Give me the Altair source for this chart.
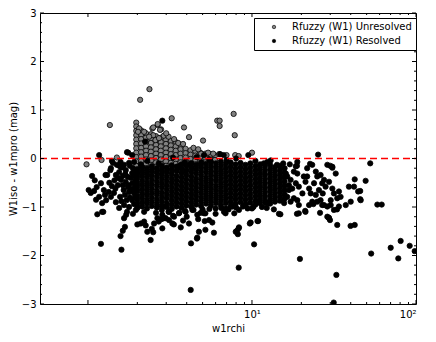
import altair as alt
import pandas as pd

UNRES = "Rfuzzy (W1) Unresolved"
RES = "Rfuzzy (W1) Resolved"

# ---- Resolved sources: dense core, one column per w1rchi value ----
band_x = [2.00, 2.14, 2.29, 2.45, 2.63, 2.82, 3.02, 3.24, 3.47, 3.72, 3.98, 4.27,
          4.57, 4.90, 5.25, 5.62, 6.03, 6.46, 6.92, 7.41, 7.94, 8.51, 9.12, 9.77,
          10.5, 11.2, 12.0, 12.9, 13.8, 14.8, 15.8]
band_y = [
    [-0.22, -0.31, -0.40, -0.50, -0.58, -0.67, -0.77, -0.85, -0.94, -1.02],
    [-0.18, -0.27, -0.36, -0.45, -0.54, -0.63, -0.72, -0.81, -0.90, -0.99],
    [-0.21, -0.30, -0.39, -0.49, -0.57, -0.66, -0.75, -0.85, -0.93, -1.03],
    [-0.16, -0.25, -0.35, -0.44, -0.53, -0.62, -0.71, -0.80, -0.89, -0.98],
    [-0.20, -0.29, -0.38, -0.47, -0.56, -0.66, -0.74, -0.84, -0.93, -1.01],
    [-0.15, -0.24, -0.33, -0.42, -0.51, -0.60, -0.70, -0.79, -0.88, -0.97, -1.06],
    [-0.19, -0.28, -0.37, -0.46, -0.55, -0.64, -0.73, -0.82, -0.92, -1.00],
    [-0.14, -0.23, -0.32, -0.41, -0.50, -0.59, -0.68, -0.77, -0.86, -0.95, -1.04],
    [-0.17, -0.26, -0.36, -0.45, -0.54, -0.63, -0.72, -0.81, -0.90, -0.99],
    [-0.12, -0.21, -0.30, -0.39, -0.48, -0.57, -0.66, -0.75, -0.84, -0.93, -1.02],
    [-0.15, -0.25, -0.34, -0.43, -0.52, -0.61, -0.70, -0.79, -0.88, -0.97],
    [-0.10, -0.19, -0.28, -0.37, -0.46, -0.55, -0.64, -0.73, -0.82, -0.91, -1.00],
    [-0.13, -0.22, -0.31, -0.41, -0.50, -0.59, -0.68, -0.77, -0.86, -0.95],
    [-0.08, -0.17, -0.26, -0.35, -0.44, -0.53, -0.62, -0.71, -0.80, -0.89, -0.98],
    [-0.11, -0.20, -0.29, -0.39, -0.48, -0.57, -0.66, -0.75, -0.84, -0.93],
    [-0.07, -0.16, -0.25, -0.34, -0.43, -0.52, -0.61, -0.70, -0.79, -0.88, -0.97],
    [-0.10, -0.19, -0.28, -0.37, -0.46, -0.56, -0.65, -0.74, -0.83, -0.92],
    [-0.06, -0.15, -0.24, -0.33, -0.42, -0.51, -0.60, -0.69, -0.78, -0.87, -0.96],
    [-0.11, -0.20, -0.29, -0.38, -0.47, -0.56, -0.65, -0.74, -0.83, -0.92],
    [-0.08, -0.17, -0.26, -0.35, -0.44, -0.53, -0.62, -0.71, -0.80, -0.89, -0.98],
    [-0.12, -0.21, -0.30, -0.39, -0.48, -0.57, -0.66, -0.75, -0.84, -0.93],
    [-0.09, -0.18, -0.27, -0.36, -0.45, -0.54, -0.63, -0.72, -0.81, -0.90],
    [-0.13, -0.22, -0.31, -0.40, -0.49, -0.58, -0.67, -0.76, -0.85, -0.94],
    [-0.10, -0.19, -0.28, -0.37, -0.46, -0.55, -0.64, -0.73, -0.82, -0.91],
    [-0.15, -0.24, -0.33, -0.42, -0.51, -0.60, -0.69, -0.78, -0.87, -0.95],
    [-0.12, -0.21, -0.30, -0.39, -0.48, -0.57, -0.66, -0.75, -0.84, -0.92],
    [-0.16, -0.25, -0.34, -0.43, -0.52, -0.61, -0.70, -0.79, -0.88],
    [-0.13, -0.22, -0.31, -0.40, -0.49, -0.58, -0.67, -0.76, -0.85, -0.93],
    [-0.18, -0.27, -0.36, -0.45, -0.54, -0.63, -0.72, -0.81, -0.89],
    [-0.15, -0.24, -0.33, -0.42, -0.51, -0.60, -0.69, -0.78, -0.87],
    [-0.20, -0.29, -0.38, -0.47, -0.56, -0.65, -0.74, -0.83],
]

# ---- Resolved sources: scattered points (w1rchi, W1iso - w1mpro) ----
black_left = [
    (1.06, -0.36), (1.01, -0.65), (1.04, -0.71), (1.09, -0.67), (1.13, -0.59), (1.20, -0.51),
    (1.17, -0.79), (1.22, -0.92), (1.29, -0.86), (1.34, -0.69), (1.38, -0.79), (1.31, -0.34),
    (1.48, -0.34), (1.44, -0.71), (1.48, -0.90), (1.14, -1.15), (1.22, -1.10), (1.59, -0.44),
    (1.63, -0.55), (1.70, -0.48), (1.75, -0.59), (1.78, -0.69), (1.83, -0.40), (1.86, -0.30),
    (1.59, -0.18), (1.66, -0.13), (1.50, -0.13), (1.42, -0.09), (1.38, -0.20), (1.55, -0.28),
    (1.70, -0.24), (1.80, -0.15), (1.91, -0.07), (1.68, -0.75), (1.57, -0.79), (1.86, -0.86),
    (1.93, -0.79), (1.66, -0.96), (1.78, -1.00), (1.91, -0.94), (1.55, -1.02), (1.73, -1.10),
    (1.88, -1.14), (1.96, -1.06), (1.52, -0.55), (1.40, -0.57), (1.25, -0.65), (1.86, -0.51),
    (1.93, -0.61), (1.75, -0.38), (1.63, -0.36), (1.17, 0.07), (1.73, 0.13), (1.86, 0.07),
    (1.76, 0.12), (1.28, -0.34), (1.37, -0.24), (1.58, -0.07), (1.63, -0.18), (1.78, -0.09),
    (1.95, -0.25), (1.95, -0.45), (1.92, -0.35), (1.97, -0.55), (1.90, -0.70), (1.83, -0.62),
    (1.80, -0.80), (1.72, -0.86), (1.65, -0.65), (1.60, -0.88), (1.45, -0.45), (1.35, -0.50),
    (1.27, -0.75), (1.12, -0.85), (1.10, -0.45), (1.47, -0.62), (1.53, -0.40), (1.69, -0.32),
    (1.76, -0.55), (1.88, -0.20), (1.40, -0.05), (1.55, -0.15),
]
black_low = [
    (2.00, -1.36), (2.10, -1.34), (2.25, -1.38), (2.50, -1.52), (2.45, -1.45), (2.41, -1.68),
    (3.12, -1.27), (3.34, -1.36), (2.81, -1.25), (4.13, -1.34), (5.15, -1.29), (5.73, -1.32),
    (4.25, -1.75), (4.62, -1.65), (5.86, -1.53), (6.00, -1.03), (6.00, -1.14), (6.90, -1.13),
    (7.80, -1.13), (5.20, -1.13), (4.87, -1.12), (8.10, -1.49), (8.20, -1.56), (8.30, -1.44),
    (9.70, -1.34), (10.8, -1.29), (10.3, -1.77), (8.30, -2.25), (12.7, -0.91), (13.6, -1.05),
    (14.6, -1.14), (4.23, -2.71), (1.20, -1.76), (1.60, -1.88), (1.58, -1.60), (1.63, -1.49),
    (1.68, -1.41), (1.24, -1.10), (1.66, -1.23), (1.71, -1.16), (2.20, -1.30), (2.30, -1.51),
    (2.53, -1.34), (2.65, -1.23), (2.84, -1.16), (2.98, -1.23), (2.20, -1.10), (2.60, -1.12),
    (3.10, -1.10), (3.60, -1.12), (3.90, -1.08), (4.40, -1.06), (5.00, -1.05), (5.50, -1.04),
    (6.50, -1.02), (7.20, -1.05), (8.00, -1.01), (8.80, -0.99), (9.40, -1.03), (10.2, -1.00),
    (11.5, -1.00), (12.3, -1.02), (3.30, -1.18), (4.00, -1.20), (4.70, -1.25), (3.80, -1.28),
    (2.70, -1.30), (2.84, -0.99), (3.12, -1.10), (2.91, -1.23), (3.35, -1.20), (3.59, -1.13),
    (3.94, -1.10), (4.33, -1.06), (4.64, -1.16), (5.10, -1.13), (5.47, -1.27), (6.92, -1.03),
    (7.60, -0.99), (8.33, -1.06), (9.15, -0.96), (10.0, -1.03), (11.0, -0.89), (12.1, -0.92),
    (15.7, -0.92), (2.84, -1.44), (3.27, -1.34), (4.75, -1.51), (7.96, -1.51), (8.33, -1.42),
    (9.82, -1.32), (10.9, -1.29), (4.64, -1.63), (6.75, -1.10), (5.20, -1.47), (3.68, -1.42),
    (12.6, -0.91), (14.9, -1.15), (18.8, -1.14), (21.1, -1.08), (23.7, -0.94), (29.4, -1.22),
    (29.9, -1.27), (26.0, -1.12), (33.0, -1.05),
]
black_top = [
    (2.23, 0.35), (2.84, 0.78), (2.30, -0.05), (2.70, -0.10), (3.30, 0.02), (3.90, -0.08),
    (4.60, 0.03), (5.10, 0.07), (6.40, 0.09), (6.72, 0.07), (9.50, 0.07), (12.4, -0.07),
    (14.2, -0.13), (25.3, 0.08), (52.6, -0.10), (2.10, -0.12), (3.60, -0.15), (4.20, -0.12),
    (5.50, -0.02), (7.00, -0.03), (8.00, 0.00), (10.5, -0.05), (11.8, -0.10), (13.0, -0.04),
    (15.5, -0.10), (17.0, -0.12), (18.8, -0.15), (22.6, -0.11), (30.0, -0.15), (30.9, -0.19),
]
black_right = [
    (16.1, -0.31), (16.4, -0.37), (17.2, -0.44), (18.0, -0.27), (18.9, -0.31), (18.5, -0.51),
    (19.3, -0.58), (16.8, -0.65), (17.6, -0.62), (16.4, -0.79), (18.0, -0.82), (17.2, -0.89),
    (18.9, -0.86), (19.3, -0.96), (21.7, -0.20), (21.7, -0.37), (21.2, -0.48), (22.3, -0.62),
    (22.8, -0.72), (23.3, -0.13), (24.5, -0.27), (25.0, -0.37), (26.2, -0.34), (26.8, -0.51),
    (25.6, -0.65), (24.5, -0.75), (26.2, -0.86), (27.5, -0.96), (23.3, -0.89), (22.3, -0.96),
    (21.2, -1.10), (19.3, -1.13), (28.8, -0.13), (30.9, -0.17), (32.4, -0.31), (29.5, -0.48),
    (28.1, -0.58), (30.9, -0.62), (31.6, -0.72), (33.9, -0.68), (33.1, -0.82), (30.2, -0.86),
    (28.8, -0.99), (31.6, -1.06), (28.8, -1.20), (29.5, -1.23), (33.9, -0.99), (37.3, -0.96),
    (40.0, -0.89), (39.0, -0.58), (41.9, -0.58), (49.3, -0.46), (42.3, -0.43), (44.4, -0.68),
    (46.0, -0.86), (18.9, -0.07), (18.5, -0.16), (16.8, -0.55), (20.3, -0.72), (20.7, -0.37),
    (23.9, -0.51), (27.5, -0.44), (25.0, -0.89), (26.8, -0.96), (30.2, -0.96), (34.7, -0.79),
    (27.0, -0.72), (45.7, -0.67), (45.7, -0.84), (58.1, -0.95), (61.8, -0.95), (39.9, -1.39),
    (42.3, -1.37), (33.1, -1.37), (19.6, -2.07), (32.7, -2.40), (53.3, -1.96), (70.1, -1.84),
    (80.6, -1.70), (78.0, -2.06), (91.5, -1.80), (98.2, -1.91), (31.5, -2.97),
]

# ---- Unresolved sources: dense core columns ----
gray_col_x = [1.97, 2.11, 2.26, 2.42, 2.60, 2.78, 2.99, 3.20, 3.43, 3.67, 3.94, 4.22,
              4.52, 4.84, 5.19, 5.56, 5.95]
gray_col_y = [
    [0.74, 0.66, 0.57, 0.48, 0.39, 0.30, 0.21, 0.12, 0.03, -0.06, -0.15, -0.24, -0.33],
    [0.58, 0.49, 0.40, 0.31, 0.22, 0.13, 0.04, -0.05, -0.14, -0.23, -0.32],
    [0.52, 0.43, 0.34, 0.25, 0.16, 0.07, -0.02, -0.11, -0.20, -0.29],
    [0.50, 0.41, 0.32, 0.23, 0.14, 0.05, -0.04, -0.13, -0.22, -0.31],
    [0.46, 0.37, 0.28, 0.19, 0.10, 0.01, -0.08, -0.17, -0.26],
    [0.43, 0.34, 0.25, 0.16, 0.07, -0.02, -0.11, -0.20, -0.29],
    [0.39, 0.30, 0.21, 0.12, 0.03, -0.06, -0.15, -0.24],
    [0.36, 0.27, 0.18, 0.09, 0.00, -0.09, -0.18, -0.27],
    [0.34, 0.25, 0.16, 0.07, -0.02, -0.11, -0.20],
    [0.28, 0.19, 0.10, 0.01, -0.08, -0.17, -0.26],
    [0.20, 0.11, 0.02, -0.07, -0.16, -0.25],
    [0.17, 0.08, -0.01, -0.10, -0.19],
    [0.15, 0.06, -0.03, -0.12, -0.21],
    [0.12, 0.03, -0.06, -0.15],
    [0.10, 0.01, -0.08],
    [0.09, 0.00],
    [0.06, -0.03],
]
gray_pts = [
    (0.98, -0.12), (1.36, 0.69), (2.08, 1.21), (2.37, 1.43), (3.24, 0.83), (3.85, 0.64),
    (4.13, 0.44), (5.03, 0.37), (6.14, 0.78), (6.35, 0.78), (6.35, 0.67), (7.73, 0.92),
    (7.85, 0.48), (2.47, 0.62), (2.66, 0.69), (2.79, 0.60), (2.50, 0.64), (2.66, 0.71),
    (2.75, 0.59), (2.50, 0.48), (2.36, 0.45), (2.58, 0.38), (2.71, 0.42), (1.50, 0.02),
    (1.21, -0.03), (6.30, 0.09), (7.00, 0.07), (7.90, 0.07), (8.30, 0.05), (10.0, 0.12),
    (5.60, 0.08), (4.90, 0.10), (2.05, 0.62), (2.02, 0.55), (2.20, 0.55), (2.90, 0.47),
    (3.10, 0.45), (3.35, 0.40), (3.00, 0.52), (3.55, 0.32), (3.80, 0.30), (4.40, 0.22),
    (4.70, 0.19), (5.40, 0.12), (5.80, 0.10),
]

# ---- axis ticks ----
x_major = [1, 10, 100]
x_minor = [2, 3, 4, 5, 6, 7, 8, 9, 20, 30, 40, 50, 60, 70, 80, 90]
x_labels = [10, 100]
y_major = [-3, -2, -1, 0, 1, 2, 3]
y_minor = [-2.8, -2.6, -2.4, -2.2, -1.8, -1.6, -1.4, -1.2, -0.8, -0.6, -0.4, -0.2,
           0.2, 0.4, 0.6, 0.8, 1.2, 1.4, 1.6, 1.8, 2.2, 2.4, 2.6, 2.8]

W, H = 376, 291
FONT = "DejaVu Sans"
XT = "w1rchi"
YT = "W1iso - w1mpro (mag)"

rows = []
for x, ys_ in zip(gray_col_x, gray_col_y):
    for y in ys_:
        rows.append({"w1rchi": x, "dmag": y, "cls": UNRES})
for x, y in gray_pts:
    rows.append({"w1rchi": x, "dmag": y, "cls": UNRES})
for x, ys_ in zip(band_x, band_y):
    for y in ys_:
        rows.append({"w1rchi": x, "dmag": y, "cls": RES})
for group in (black_left, black_low, black_top, black_right):
    for x, y in group:
        rows.append({"w1rchi": x, "dmag": y, "cls": RES})
df = pd.DataFrame(rows)

xs = alt.Scale(type="log", domain=[0.51, 100], nice=False)
ys = alt.Scale(domain=[-3, 3], nice=False, zero=False)

x_axis = alt.Axis(values=x_labels, ticks=False, domain=False, grid=False,
                  labelExpr="datum.value == 10 ? '10¹' : '10²'",
                  labelPadding=5, titlePadding=4)
y_axis = alt.Axis(values=y_major, ticks=False, domain=False, grid=False,
                  format="d", labelPadding=4, titlePadding=3)

points = alt.Chart(df).mark_circle(
    size=28, opacity=1, stroke="black", strokeWidth=0.8, clip=True
).encode(
    x=alt.X("w1rchi:Q", scale=xs, title=XT, axis=x_axis),
    y=alt.Y("dmag:Q", scale=ys, title=YT, axis=y_axis),
    color=alt.Color("cls:N", scale=alt.Scale(domain=[UNRES, RES], range=["#808080", "#000000"]),
                    legend=alt.Legend(title=None, orient="none", legendX=214, legendY=5,
                                      padding=4, rowPadding=4, symbolType="circle",
                                      symbolSize=12, symbolStrokeColor="black",
                                      symbolStrokeWidth=0.6, symbolOffset=11,
                                      labelOffset=13, labelFontSize=10,
                                      labelFont=FONT, labelColor="black",
                                      strokeColor="black", fillColor="white",
                                      cornerRadius=0, labelLimit=300)),
)

zero_line = alt.Chart(pd.DataFrame({"y": [0]})).mark_rule(
    color="#ff0000", strokeDash=[7, 4], strokeWidth=1.3
).encode(y=alt.Y("y:Q", scale=ys, title=YT, axis=y_axis), x=alt.value(0), x2=alt.value(W))


def xticks(vals, length):
    d = pd.DataFrame({"v": vals})
    base = alt.Chart(d).mark_rule(color="black", strokeWidth=1)
    enc = alt.X("v:Q", scale=xs, title=XT, axis=x_axis)
    return [base.encode(x=enc, y=alt.value(H), y2=alt.value(H - length)),
            base.encode(x=enc, y=alt.value(0), y2=alt.value(length))]


def yticks(vals, length):
    d = pd.DataFrame({"v": vals})
    base = alt.Chart(d).mark_rule(color="black", strokeWidth=1)
    enc = alt.Y("v:Q", scale=ys, title=YT, axis=y_axis)
    return [base.encode(y=enc, x=alt.value(0), x2=alt.value(length)),
            base.encode(y=enc, x=alt.value(W), x2=alt.value(W - length))]


tick_layers = xticks(x_major, 4) + xticks(x_minor, 2) + yticks(y_major, 4) + yticks(y_minor, 2)

chart = alt.layer(points, zero_line, *tick_layers).properties(
    width=W, height=H,
    padding={"left": 32, "top": 5, "right": 10, "bottom": 36},
    autosize=alt.AutoSizeParams(type="none"),
).configure(
    font=FONT
).configure_view(
    stroke="black", strokeWidth=1
).configure_axis(
    labelFont=FONT, labelFontSize=10, labelColor="black",
    titleFont=FONT, titleFontSize=10, titleFontWeight="normal", titleColor="black"
).configure_legend(
    strokeWidth=1
)

chart.save("out.html", embed_options={"renderer": "svg", "actions": False})
